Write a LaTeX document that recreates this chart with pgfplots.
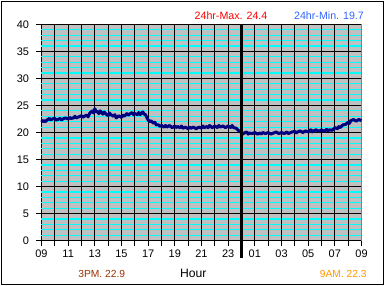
\documentclass[border=0pt]{standalone}
\usepackage{pgfplots}
\pgfplotsset{compat=1.18}
\usepackage{fontspec}
\setmainfont{Liberation Sans}
\definecolor{plotbg}{HTML}{C0C0C0}
\definecolor{gridcyan}{HTML}{00FFFF}
\definecolor{navy}{HTML}{000080}
\definecolor{maxred}{HTML}{FF0000}
\definecolor{minblue}{HTML}{3366FF}
\definecolor{pmbrown}{HTML}{993300}
\definecolor{amorange}{HTML}{FF9900}
\begin{document}
\begin{tikzpicture}[x=1bp,y=1bp]
\useasboundingbox (-41.5,-45.5) rectangle (343.5,240.5);
\fill[white] (-41.5,-45.5) rectangle (343.5,240.5);
\draw[black,line width=1bp] (-40,-44) rectangle (342,239);
\fill[plotbg] (0,0) rectangle (320,216);
\begin{axis}[
  at={(0,0)}, anchor=south west,
  scale only axis, width=320bp, height=216bp,
  xmin=9, xmax=33, ymin=0, ymax=40,
  xtick={9,...,33},
  xticklabels={09,,11,,13,,15,,17,,19,,21,,23,,01,,03,,05,,07,,09},
  ytick={0,5,...,40},
  major tick length=5bp,
  tick align=outside,
  xtick pos=lower, ytick pos=left,
  tick style={black,line width=1bp},
  axis line style={black,line width=1bp},
  ticklabel style={font=\fontsize{11}{12}\selectfont},
  yticklabel style={xshift=-4bp},
  xticklabel style={yshift=-1bp},
  /pgf/number format/assume math mode=true,
  clip=false,
]
\pgfplotsinvokeforeach{1,2,3,4,6,7,8,9,11,12,13,14,16,17,18,19,21,22,23,24,26,27,28,29,31,32,33,34,36,37,38,39}{\draw[gridcyan,line width=1.2bp] (axis cs:9,#1) -- (axis cs:33,#1);}
\pgfplotsinvokeforeach{10,...,32}{\draw[black,line width=1bp] (axis cs:#1,0) -- (axis cs:#1,40);}
\pgfplotsinvokeforeach{5,10,...,35}{\draw[black,line width=1bp] (axis cs:9,#1) -- (axis cs:33,#1);}
\draw[black!50,line width=1bp] (axis cs:33,0) -- (axis cs:33,40);
\addplot[navy,line width=3bp,line join=round] coordinates {
(9.0,22.3)(9.1,22.0)(9.2,22.2)(9.3,22.0)(9.4,22.3)(9.6,22.6)(9.7,22.3)(9.8,22.5)(10.0,22.6)(10.1,22.3)(10.2,22.4)(10.4,22.6)(10.5,22.3)(10.6,22.5)(10.8,22.7)
(11.0,22.5)(11.1,22.8)(11.2,22.6)(11.4,22.7)(11.5,23.0)(11.6,22.7)(11.8,22.9)(12.0,23.1)(12.1,22.8)(12.2,23.0)(12.4,23.2)(12.5,22.9)(12.6,23.5)(12.8,24.0)
(12.9,23.6)(13.0,24.4)(13.1,23.8)(13.2,23.9)(13.3,23.5)(13.4,24.0)(13.6,23.4)(13.7,23.8)(13.8,23.5)(14.0,23.1)(14.1,23.6)(14.2,23.3)(14.4,23.0)(14.5,23.3)(14.6,22.7)(14.8,23.1)
(15.0,22.8)(15.1,23.2)(15.2,23.0)(15.4,23.5)(15.5,23.2)(15.6,23.4)(15.8,23.7)(15.9,23.3)(16.0,23.5)(16.2,23.3)(16.3,23.7)(16.4,23.3)(16.6,23.8)(16.7,23.4)(16.8,23.3)
(17.0,22.3)(17.1,22.0)(17.2,22.2)(17.4,21.7)(17.5,21.9)(17.6,21.4)(17.8,21.4)(17.9,21.1)(18.0,21.3)(18.2,21.0)(18.3,21.3)(18.4,21.0)(18.6,21.3)(18.8,20.9)
(19.0,21.2)(19.1,20.9)(19.2,21.1)(19.4,20.9)(19.5,21.2)(19.6,20.8)(19.8,21.0)(20.0,20.7)(20.1,21.0)(20.2,20.8)(20.4,21.0)(20.6,20.7)(20.8,21.0)
(21.0,20.8)(21.1,21.2)(21.2,20.9)(21.4,21.1)(21.5,20.9)(21.6,21.3)(21.8,20.9)(22.0,21.2)(22.2,20.9)(22.3,21.3)(22.4,21.0)(22.6,21.2)(22.8,20.9)
(23.0,21.2)(23.2,20.9)(23.3,21.3)(23.4,20.9)(23.6,20.8)(23.8,20.3)(24.0,20.0)(24.1,19.7)(24.2,19.9)(24.4,20.1)(24.5,19.7)(24.6,19.9)(24.8,19.8)
(25.0,20.0)(25.2,19.7)(25.4,19.9)(25.5,19.7)(25.6,20.0)(25.8,19.8)(26.0,20.0)(26.2,19.7)(26.4,19.9)(26.6,20.1)(26.8,19.8)
(27.0,20.0)(27.2,19.8)(27.4,20.1)(27.5,19.8)(27.6,19.9)(27.8,20.1)(28.0,20.2)(28.1,19.9)(28.2,20.1)(28.4,20.3)(28.6,20.0)(28.8,20.3)
(29.0,20.1)(29.2,20.5)(29.3,20.1)(29.4,20.3)(29.6,20.5)(29.8,20.2)(30.0,20.5)(30.2,20.2)(30.4,20.6)(30.5,20.3)(30.6,20.5)(30.8,20.4)
(31.0,20.9)(31.2,20.7)(31.3,21.1)(31.4,20.9)(31.6,21.4)(31.8,21.5)(32.0,21.9)(32.1,21.7)(32.2,22.2)(32.4,22.4)(32.6,22.1)(32.8,22.4)
(33.0,22.2)
};
\draw[black,line width=2.3bp] (axis cs:24,-3.24) -- (axis cs:24,40.1);
\end{axis}
\node[anchor=base,text=maxred,font=\fontsize{10.7}{12}\selectfont,inner sep=0pt] at (189.5,221.2) {24hr-Max. 24.4};
\node[anchor=base,text=minblue,font=\fontsize{10.7}{12}\selectfont,inner sep=0pt] at (287.5,221.2) {24hr-Min. 19.7};
\node[anchor=base,text=pmbrown,font=\fontsize{10.3}{12}\selectfont,inner sep=0pt] at (60.2,-36.5) {3PM. 22.9};
\node[anchor=base,text=black,font=\fontsize{12.2}{14}\selectfont,inner sep=0pt] at (151.8,-36.5) {Hour};
\node[anchor=base,text=amorange,font=\fontsize{10.3}{12}\selectfont,inner sep=0pt] at (301.8,-36.5) {9AM. 22.3};
\end{tikzpicture}
\end{document}
